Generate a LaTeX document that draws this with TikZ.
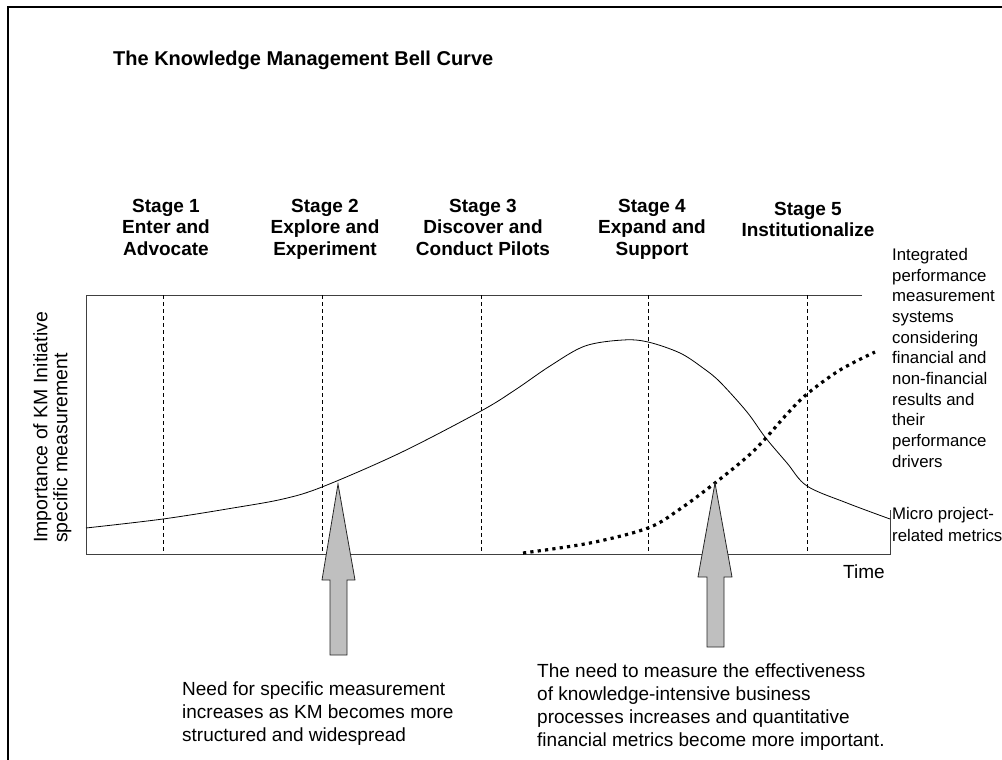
\documentclass[tikz,border=0pt]{standalone}
\usepackage{fontspec}
\setmainfont{Liberation Sans}
\usetikzlibrary{positioning}
\tikzset{
    stagelabel/.style={anchor=north, align=center, inner sep=0pt, font=\fontsize{19}{21.5}\selectfont\bfseries},
    notetext/.style={anchor=north west, align=left, inner sep=0pt, font=\fontsize{19}{23}\selectfont},
    sidetext/.style={anchor=north west, align=left, inner sep=0pt, font=\fontsize{16.8}{20.7}\selectfont},
    stageline/.style={line width=0.8pt, dash pattern=on 4pt off 3pt},
    axisline/.style={line width=1pt, black!75},
    blockarrow/.style={draw=black!85, fill=black!25, line width=0.8pt},
}
\begin{document}
\begin{tikzpicture}[x=1pt,y=-1pt]
    \useasboundingbox (0,0) rectangle (1002,760);
    \clip (0,0) rectangle (1002,760);
    \draw[line width=2.5pt] (8,7) rectangle (1030,790);
    \node[anchor=base west, inner sep=0pt, font=\fontsize{20}{24}\selectfont\bfseries] (title) at (113,66) {The Knowledge Management Bell Curve};
    % stages
    \node[stagelabel] (stage1) at (166,199) {Stage 1\\Enter and\\Advocate};
    \node[stagelabel] (stage2) at (325,199) {Stage 2\\Explore and\\Experiment};
    \node[stagelabel] (stage3) at (483,199) {Stage 3\\Discover and\\Conduct Pilots};
    \node[stagelabel] (stage4) at (652,199) {Stage 4\\Expand and\\Support};
    \node[stagelabel] (stage5) at (808,202) {Stage 5\\Institutionalize};
    \draw[axisline] (862,295) -- (86,295) -- (86,554) -- (890,554) -- (890,510);
    \foreach \x in {163,322,481,648,807}
        \draw[stageline] (\x,295) -- (\x,554);
    % bell curve and integrated measurement curve
    \draw[line width=0.8pt] plot[smooth, tension=0.55] coordinates {(86,528) (163,519) (233,508) (283,499) (322,487) (400,453) (481,411) (515,390) (550,366) (585,346) (623,340) (648,342) (680,353) (703,368) (720,382) (747,412) (765,437) (787,463) (807,486) (847,503) (890,519)};
    \draw[line width=3.2pt, dash pattern=on 3.2pt off 4.2pt] plot[smooth, tension=0.55] coordinates {(523,553) (590,543) (648,528) (680,509) (715,483) (747,457) (765,439) (787,414) (807,394) (840,370) (875,352)};
    \draw[blockarrow] (338,484) -- (355,580) -- (347,580) -- (347,655) -- (330,655) -- (330,580) -- (322,580) -- cycle;
    \draw[blockarrow] (715,483) -- (732,577) -- (724,577) -- (724,647) -- (707,647) -- (707,577) -- (698,577) -- cycle;
    % labels
    \node[anchor=north west, inner sep=0pt, rotate=90, align=left, font=\fontsize{19.5}{20}\selectfont] (ylabel) at (33,543) {Importance of KM Initiative\\specific measurement};
    \node[anchor=north west, inner sep=0pt, font=\fontsize{19}{23}\selectfont] (time) at (843,565) {Time};
    \node[sidetext] (drivers) at (892,248) {Integrated\\performance\\measurement\\systems\\considering\\financial and\\non-financial\\results and\\their\\performance\\drivers};
    \node[sidetext, font=\fontsize{16.8}{22}\selectfont] (micro) at (892,507) {Micro project-\\related metrics};
    \node[notetext] (needleft) at (182,682) {Need for specific measurement\\increases as KM becomes more\\structured and widespread};
    \node[notetext] (needright) at (537,664) {The need to measure the effectiveness\\of knowledge-intensive business\\processes increases and quantitative\\financial metrics become more important.};
\end{tikzpicture}
\end{document}
